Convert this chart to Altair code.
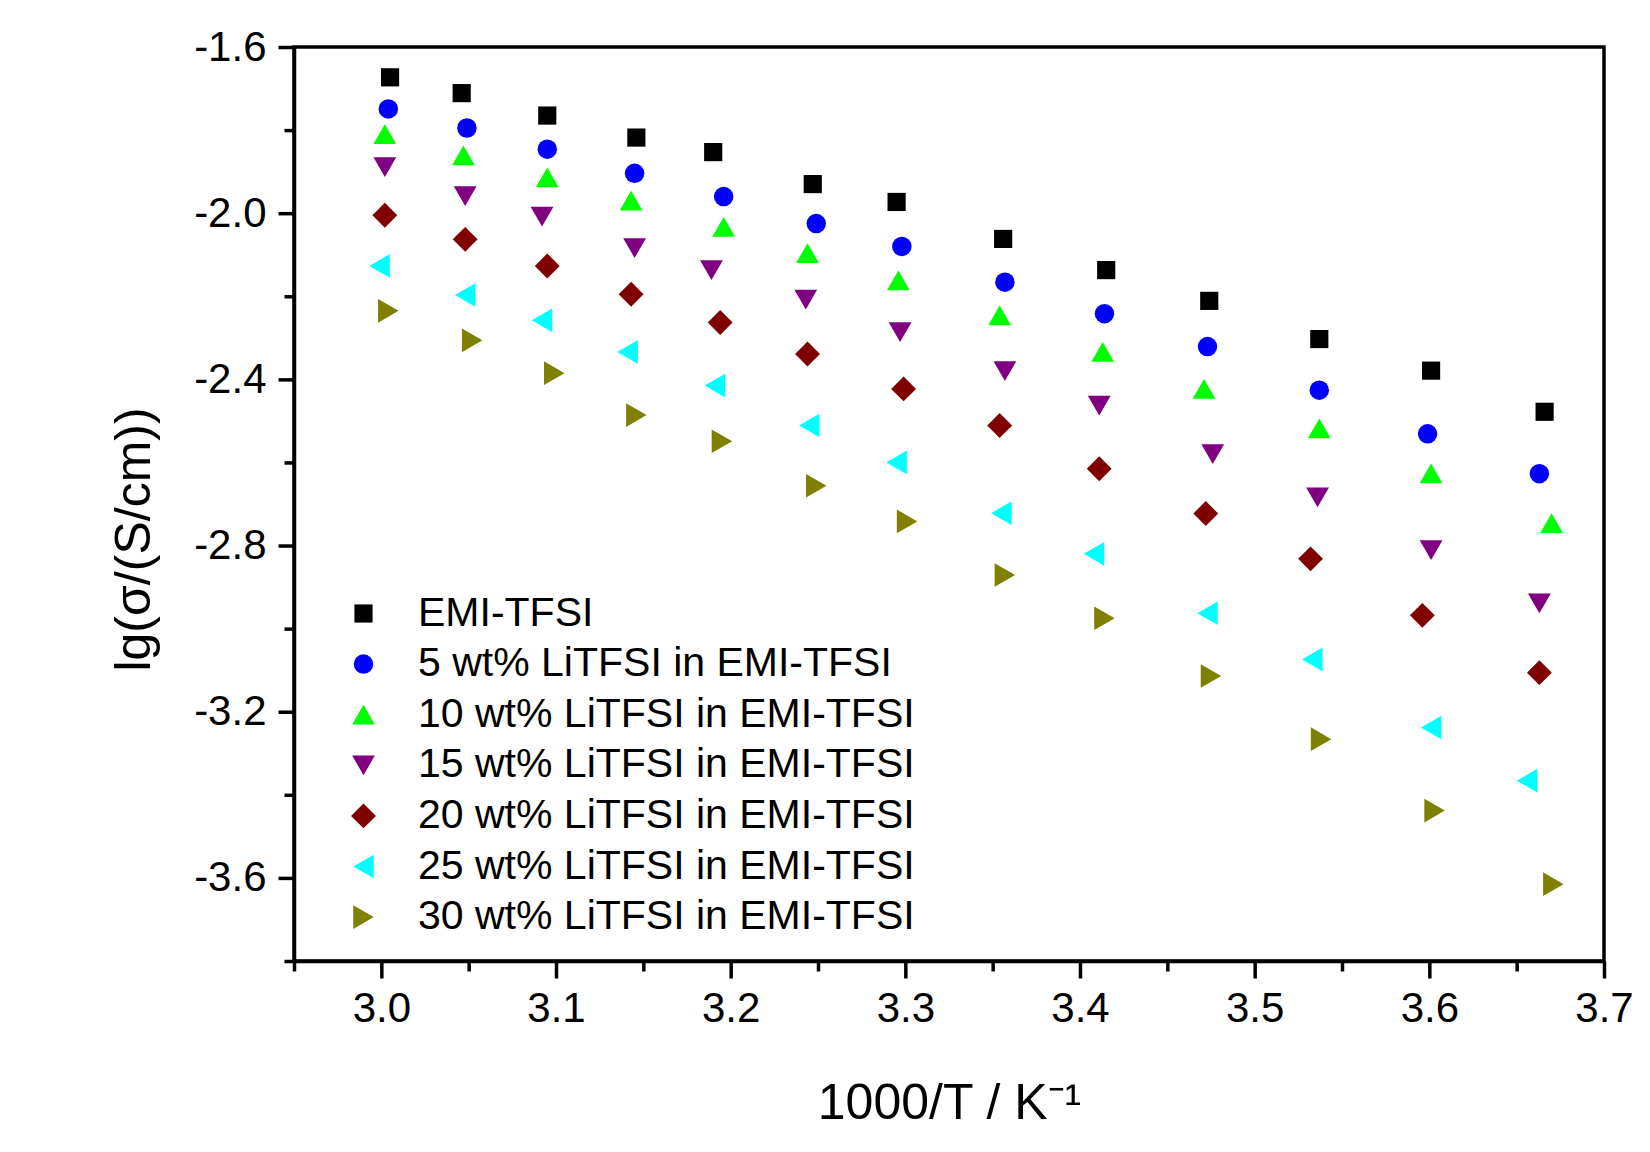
import altair as alt
import pandas as pd

SERIES = [
    "EMI-TFSI",
    "5 wt% LiTFSI in EMI-TFSI",
    "10 wt% LiTFSI in EMI-TFSI",
    "15 wt% LiTFSI in EMI-TFSI",
    "20 wt% LiTFSI in EMI-TFSI",
    "25 wt% LiTFSI in EMI-TFSI",
    "30 wt% LiTFSI in EMI-TFSI",
]
COLORS = ["#000000", "#0000FF", "#00FF00", "#800080", "#800000", "#00FFFF", "#808000"]
SHAPES = ["square", "circle", "triangle-up", "triangle-down", "diamond", "triangle-left", "triangle-right"]
SIZES = [330, 380, 520, 520, 620, 560, 560]

x_emi = [3.005, 3.046, 3.095, 3.146, 3.190, 3.247, 3.295, 3.356, 3.415, 3.474, 3.537, 3.601, 3.666]
y_emi = [-1.673, -1.711, -1.765, -1.818, -1.853, -1.930, -1.973, -2.062, -2.137, -2.211, -2.303, -2.379, -2.478]

x_5 = [3.004, 3.049, 3.095, 3.145, 3.196, 3.249, 3.298, 3.357, 3.414, 3.473, 3.537, 3.599, 3.663]
y_5 = [-1.749, -1.795, -1.846, -1.904, -1.960, -2.025, -2.080, -2.166, -2.242, -2.321, -2.426, -2.531, -2.627]

x_10 = [3.002, 3.047, 3.095, 3.143, 3.196, 3.244, 3.296, 3.354, 3.413, 3.471, 3.537, 3.601, 3.670]
y_10 = [-1.810, -1.861, -1.914, -1.970, -2.033, -2.096, -2.162, -2.246, -2.334, -2.423, -2.518, -2.626, -2.746]

x_15 = [3.002, 3.048, 3.092, 3.145, 3.189, 3.243, 3.297, 3.357, 3.411, 3.476, 3.536, 3.601, 3.663]
y_15 = [-1.889, -1.959, -2.008, -2.084, -2.137, -2.208, -2.286, -2.380, -2.463, -2.580, -2.684, -2.811, -2.939]

x_20 = [3.002, 3.048, 3.095, 3.143, 3.194, 3.244, 3.299, 3.354, 3.411, 3.472, 3.532, 3.596, 3.663]
y_20 = [-2.005, -2.063, -2.127, -2.195, -2.263, -2.339, -2.423, -2.511, -2.615, -2.723, -2.832, -2.968, -3.106]

x_25 = [2.999, 3.048, 3.092, 3.141, 3.191, 3.245, 3.295, 3.355, 3.408, 3.473, 3.533, 3.601, 3.656]
y_25 = [-2.127, -2.197, -2.258, -2.334, -2.415, -2.511, -2.600, -2.722, -2.820, -2.963, -3.074, -3.238, -3.366]

x_30 = [3.004, 3.052, 3.099, 3.146, 3.195, 3.249, 3.301, 3.357, 3.414, 3.475, 3.538, 3.603, 3.671]
y_30 = [-2.235, -2.306, -2.385, -2.486, -2.549, -2.656, -2.742, -2.871, -2.975, -3.114, -3.266, -3.438, -3.615]

X_ALL = [x_emi, x_5, x_10, x_15, x_20, x_25, x_30]
Y_ALL = [y_emi, y_5, y_10, y_15, y_20, y_25, y_30]

X_MAJOR = [3.0, 3.1, 3.2, 3.3, 3.4, 3.5, 3.6, 3.7]
X_MINOR = [2.95, 3.05, 3.15, 3.25, 3.35, 3.45, 3.55, 3.65]
Y_MAJOR = [-1.6, -2.0, -2.4, -2.8, -3.2, -3.6]
Y_MINOR = [-1.8, -2.2, -2.6, -3.0, -3.4, -3.8]

rows = []
for name, xs, ys in zip(SERIES, X_ALL, Y_ALL):
    for xv, yv in zip(xs, ys):
        rows.append({"series": name, "x": xv, "y": yv})
df = pd.DataFrame(rows)

FONT = "Liberation Sans"
LABEL_EXPR = "replace(format(datum.value, '.1f'), '\u2212', '-')"
xscale = alt.Scale(domain=[2.95, 3.7], nice=False, zero=False)
yscale = alt.Scale(domain=[-3.8, -1.6], nice=False, zero=False)

points = alt.Chart(df).mark_point(filled=True, opacity=1, strokeWidth=0).encode(
    x=alt.X("x:Q", scale=xscale, axis=alt.Axis(
        values=X_MAJOR, labelExpr=LABEL_EXPR, title="1000/T / K\u207b\u00b9", orient="bottom",
        tickSize=17, labelPadding=10, titleFontSize=50, titleFont=FONT,
        titleFontWeight="normal", titleY=157, titleBaseline="alphabetic")),
    y=alt.Y("y:Q", scale=yscale, axis=alt.Axis(
        values=Y_MAJOR, labelExpr=LABEL_EXPR, title="lg(\u03c3/(S/cm))", orient="left",
        tickSize=16, labelPadding=12, titleFontSize=50, titleFont=FONT,
        titleFontWeight="normal", titleX=-145, titleY=492, titleAngle=270,
        titleAlign="center", titleBaseline="alphabetic")),
    color=alt.Color("series:N", scale=alt.Scale(domain=SERIES, range=COLORS), title=None),
    shape=alt.Shape("series:N", scale=alt.Scale(domain=SERIES, range=SHAPES), title=None),
    size=alt.Size("series:N", scale=alt.Scale(type="ordinal", domain=SERIES, range=SIZES), title=None),
)

minor = alt.Chart(df).mark_point(opacity=0).encode(
    x=alt.X("x:Q", scale=xscale, axis=alt.Axis(
        values=X_MINOR, labels=False, domain=False, title=None, tickSize=10, orient="bottom")),
    y=alt.Y("y:Q", scale=yscale, axis=alt.Axis(
        values=Y_MINOR, labels=False, domain=False, title=None, tickSize=10, orient="left")),
)

chart = alt.layer(points, minor).resolve_axis(x="independent", y="independent").properties(
    width=1310, height=914,
    autosize=alt.AutoSizeParams(type="none"),
    padding={"left": 286, "top": 39, "right": 30, "bottom": 180},
).configure_view(
    stroke="black", strokeWidth=3.5
).configure_axis(
    grid=False, domainColor="black", domainWidth=3.5, tickColor="black", tickWidth=3.5,
    labelFont=FONT, labelFontSize=42, labelColor="black", titleColor="black",
    labelFlush=False, labelOverlap=False, tickRound=False,
).configure_legend(
    orient="none", legendX=49, legendY=546, padding=0,
    labelFont=FONT, labelFontSize=41, labelColor="black", labelLimit=0,
    labelOffset=34, rowPadding=8.6, symbolStrokeWidth=0, symbolOpacity=1,
    titlePadding=0,
).configure_point(strokeWidth=0)

chart.save("out.html", embed_options={"renderer": "svg", "actions": False})
